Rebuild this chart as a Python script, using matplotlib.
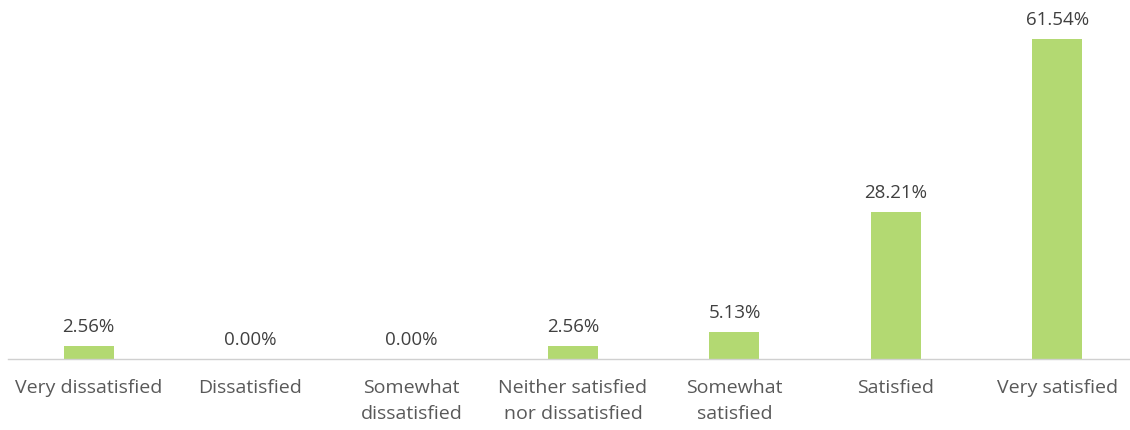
import matplotlib
matplotlib.use("Agg")
import matplotlib.pyplot as plt

categories = ["Very dissatisfied", "Dissatisfied", "Somewhat\ndissatisfied",
              "Neither satisfied\nnor dissatisfied", "Somewhat\nsatisfied",
              "Satisfied", "Very satisfied"]
values = [2.56, 0.00, 0.00, 2.56, 5.13, 28.21, 61.54]
labels = ["2.56%", "0.00%", "0.00%", "2.56%", "5.13%", "28.21%", "61.54%"]

plt.rcParams['font.family'] = ['Open Sans', 'DejaVu Sans']
W, H = 1130, 431
fig = plt.figure(figsize=(W/100, H/100), dpi=100)
ax = fig.add_axes([8/W, 71/H, (1130-8)/W, 355/H])
x = list(range(len(categories)))
ax.bar(x, values, width=0.31, color="#b3d972")
for xi, v, lab in zip(x, values, labels):
    ax.text(xi, v + 2.1, lab, ha="center", va="bottom", fontsize=13.5, color="#404040")
ax.set_xlim(-0.5, 6.45)
ax.set_ylim(0, 68.3)
ax.set_yticks([])
ax.set_xticks(x)
ax.set_xticklabels(categories, fontsize=14, color="#595959", linespacing=1.55)
ax.tick_params(axis="x", length=0, pad=14)
for s in ["top", "left", "right"]:
    ax.spines[s].set_visible(False)
ax.spines["bottom"].set_color("#d0d0d0")
ax.spines["bottom"].set_linewidth(1)
fig.savefig("out.png", dpi=100)
